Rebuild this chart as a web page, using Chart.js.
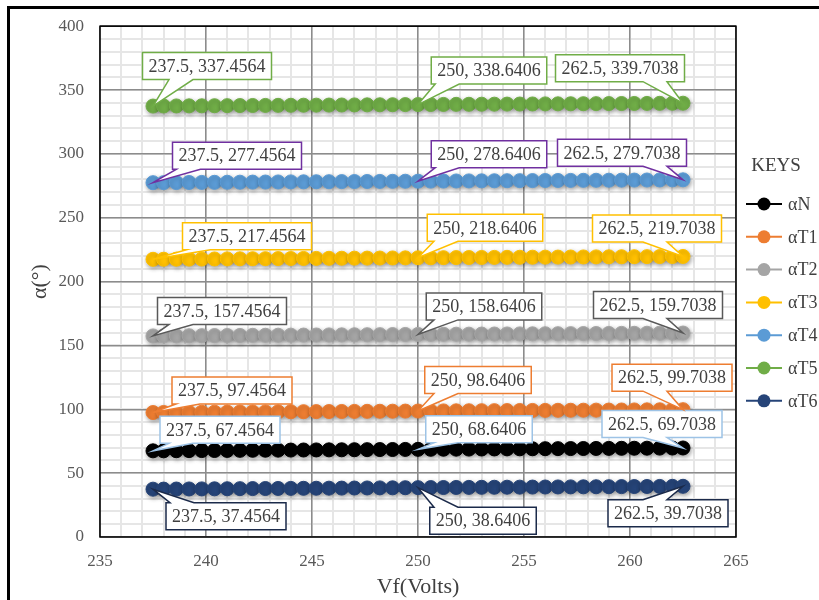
<!DOCTYPE html>
<html>
<head>
<meta charset="utf-8">
<script src="https://cdn.jsdelivr.net/npm/chart.js@4.4.1/dist/chart.umd.min.js"></script>
<style>
  body { margin: 0; background: #fff; }
  canvas { display: block; }
</style>
</head>
<body>
<canvas id="alphaChart" width="819" height="600"></canvas>
<script>
// Vf (Volts)
const xValues = [237.5, 238, 238.6, 239.2, 239.8, 240.4, 241, 241.6, 242.2, 242.8, 243.4,
  244, 244.6, 245.2, 245.8, 246.4, 247, 247.6, 248.2, 248.8, 249.4, 250, 250.6, 251.2,
  251.8, 252.4, 253, 253.6, 254.2, 254.8, 255.4, 256, 256.6, 257.2, 257.8, 258.4, 259,
  259.6, 260.2, 260.8, 261.4, 262, 262.5];

// alpha series
const alphaN = [67.4564, 67.50, 67.56, 67.62, 67.67, 67.73, 67.79, 67.85, 67.91, 67.96, 68.02,
  68.07, 68.13, 68.18, 68.24, 68.29, 68.35, 68.40, 68.46, 68.51, 68.59, 68.6406, 68.69, 68.74,
  68.80, 68.85, 68.90, 68.95, 69.00, 69.05, 69.10, 69.15, 69.20, 69.25, 69.30, 69.35, 69.40,
  69.45, 69.50, 69.55, 69.60, 69.66, 69.7038];
const alphaT1 = [97.4564, 97.50, 97.56, 97.62, 97.67, 97.73, 97.79, 97.85, 97.91, 97.96, 98.02,
  98.07, 98.13, 98.18, 98.24, 98.29, 98.35, 98.40, 98.46, 98.51, 98.59, 98.6406, 98.69, 98.74,
  98.80, 98.85, 98.90, 98.95, 99.00, 99.05, 99.10, 99.15, 99.20, 99.25, 99.30, 99.35, 99.40,
  99.45, 99.50, 99.55, 99.60, 99.66, 99.7038];
const alphaT2 = [157.4564, 157.50, 157.56, 157.62, 157.67, 157.73, 157.79, 157.85, 157.91, 157.96, 158.02,
  158.07, 158.13, 158.18, 158.24, 158.29, 158.35, 158.40, 158.46, 158.51, 158.59, 158.6406, 158.69, 158.74,
  158.80, 158.85, 158.90, 158.95, 159.00, 159.05, 159.10, 159.15, 159.20, 159.25, 159.30, 159.35, 159.40,
  159.45, 159.50, 159.55, 159.60, 159.66, 159.7038];
const alphaT3 = [217.4564, 217.50, 217.56, 217.62, 217.67, 217.73, 217.79, 217.85, 217.91, 217.96, 218.02,
  218.07, 218.13, 218.18, 218.24, 218.29, 218.35, 218.40, 218.46, 218.51, 218.59, 218.6406, 218.69, 218.74,
  218.80, 218.85, 218.90, 218.95, 219.00, 219.05, 219.10, 219.15, 219.20, 219.25, 219.30, 219.35, 219.40,
  219.45, 219.50, 219.55, 219.60, 219.66, 219.7038];
const alphaT4 = [277.4564, 277.50, 277.56, 277.62, 277.67, 277.73, 277.79, 277.85, 277.91, 277.96, 278.02,
  278.07, 278.13, 278.18, 278.24, 278.29, 278.35, 278.40, 278.46, 278.51, 278.59, 278.6406, 278.69, 278.74,
  278.80, 278.85, 278.90, 278.95, 279.00, 279.05, 279.10, 279.15, 279.20, 279.25, 279.30, 279.35, 279.40,
  279.45, 279.50, 279.55, 279.60, 279.66, 279.7038];
const alphaT5 = [337.4564, 337.50, 337.56, 337.62, 337.67, 337.73, 337.79, 337.85, 337.91, 337.96, 338.02,
  338.07, 338.13, 338.18, 338.24, 338.29, 338.35, 338.40, 338.46, 338.51, 338.59, 338.6406, 338.69, 338.74,
  338.80, 338.85, 338.90, 338.95, 339.00, 339.05, 339.10, 339.15, 339.20, 339.25, 339.30, 339.35, 339.40,
  339.45, 339.50, 339.55, 339.60, 339.66, 339.7038];
const alphaT6 = [37.4564, 37.50, 37.56, 37.62, 37.67, 37.73, 37.79, 37.85, 37.91, 37.96, 38.02,
  38.07, 38.13, 38.18, 38.24, 38.29, 38.35, 38.40, 38.46, 38.51, 38.59, 38.6406, 38.69, 38.74,
  38.80, 38.85, 38.90, 38.95, 39.00, 39.05, 39.10, 39.15, 39.20, 39.25, 39.30, 39.35, 39.40,
  39.45, 39.50, 39.55, 39.60, 39.66, 39.7038];

const seriesNames = ['αN', 'αT1', 'αT2', 'αT3', 'αT4', 'αT5', 'αT6'];
const seriesValues = [alphaN, alphaT1, alphaT2, alphaT3, alphaT4, alphaT5, alphaT6];

// tick labels
const xTickValues = [235, 240, 245, 250, 255, 260, 265];
const yTickValues = [0, 50, 100, 150, 200, 250, 300, 350, 400];

// which points get a data callout
const calloutIndex = [0, 21, 42];

// styling
const seriesColors = ['#000000', '#ed7d31', '#a5a5a5', '#ffc000', '#5b9bd5', '#70ad47', '#264478'];
const calloutColors = ['#9dc3e6', '#ed7d31', '#595959', '#ffc000', '#7030a0', '#70ad47', '#1b2a4a'];
// box centre offset from the point, px
const calloutOffsets = [
  [[67, -21], [61, -20], [-21, -24]],
  [[79, -22], [60, -31], [-11, -32]],
  [[69, -25], [66, -28], [-25, -28]],
  [[94, -23], [67, -30], [-26, -28]],
  [[84, -27], [71, -27], [-61, -27]],
  [[54, -40], [71, -34], [-63, -35]],
  [[73, 27], [65, 33], [-15, 27]]
];

const SERIF = "'Liberation Serif', 'Times New Roman', serif";

function drawCallout(ctx, text, cx, cy, px, py, color) {
  ctx.font = '18px ' + SERIF;
  const bw = ctx.measureText(text).width + 12;
  const bh = 27;
  const bx = cx - bw / 2, by = cy - bh / 2;
  const bc = Math.min(Math.max(px + (px < cx ? 28 : -28), bx + 16), bx + bw - 16);
  const b1 = bc - 12, b2 = bc + 12;

  ctx.beginPath();
  if (py > by + bh) {
    ctx.moveTo(bx, by);
    ctx.lineTo(bx + bw, by);
    ctx.lineTo(bx + bw, by + bh);
    ctx.lineTo(b2, by + bh);
    ctx.lineTo(px, py);
    ctx.lineTo(b1, by + bh);
    ctx.lineTo(bx, by + bh);
  } else {
    ctx.moveTo(bx, by);
    ctx.lineTo(b1, by);
    ctx.lineTo(px, py);
    ctx.lineTo(b2, by);
    ctx.lineTo(bx + bw, by);
    ctx.lineTo(bx + bw, by + bh);
    ctx.lineTo(bx, by + bh);
  }
  ctx.closePath();
  ctx.fillStyle = '#fff';
  ctx.fill();
  ctx.lineWidth = 1.5;
  ctx.strokeStyle = color;
  ctx.stroke();

  ctx.fillStyle = '#404040';
  ctx.textAlign = 'center';
  ctx.textBaseline = 'middle';
  ctx.fillText(text, cx, cy + 1);
}

const excelLook = {
  id: 'excelLook',
  beforeDraw(chart) {
    const { ctx, chartArea: a, scales: { x, y } } = chart;
    ctx.save();
    ctx.fillStyle = '#fff';
    ctx.fillRect(0, 0, chart.width, chart.height);
    // minor grid
    ctx.strokeStyle = '#e6e6e6';
    ctx.lineWidth = 2;
    ctx.beginPath();
    for (let v = x.min + 1; v < x.max; v += 1) {
      const px = Math.round(x.getPixelForValue(v));
      ctx.moveTo(px, a.top);
      ctx.lineTo(px, a.bottom);
    }
    for (let v = y.min + 10; v < y.max; v += 10) {
      const py = Math.round(y.getPixelForValue(v));
      ctx.moveTo(a.left, py);
      ctx.lineTo(a.right, py);
    }
    ctx.stroke();
    ctx.restore();
  },
  beforeDatasetsDraw(chart) {
    const { ctx, chartArea: a } = chart;
    ctx.save();
    ctx.strokeStyle = '#000';
    ctx.lineWidth = 1.5;
    ctx.strokeRect(a.left, a.top, a.right - a.left, a.bottom - a.top);
    ctx.restore();
    ctx.save();
    ctx.shadowColor = 'rgba(0,0,0,0.35)';
    ctx.shadowBlur = 4;
    ctx.shadowOffsetX = 1;
    ctx.shadowOffsetY = 2;
  },
  afterDatasetsDraw(chart) {
    const ctx = chart.ctx;
    ctx.restore();
    ctx.save();
    chart.data.datasets.forEach((ds, si) => {
      const meta = chart.getDatasetMeta(si);
      calloutIndex.forEach((idx, k) => {
        const pt = meta.data[idx];
        const off = calloutOffsets[si][k];
        const text = xValues[idx] + ', ' + seriesValues[si][idx];
        drawCallout(ctx, text, pt.x + off[0], pt.y + off[1], pt.x, pt.y, calloutColors[si]);
      });
    });
    ctx.restore();
  },
  afterDraw(chart) {
    const ctx = chart.ctx;
    ctx.save();
    // legend
    ctx.fillStyle = '#404040';
    ctx.textAlign = 'center';
    ctx.textBaseline = 'middle';
    ctx.font = '19px ' + SERIF;
    ctx.fillText('KEYS', 776, 166);
    ctx.textAlign = 'left';
    ctx.font = '18px ' + SERIF;
    seriesNames.forEach((name, i) => {
      const yy = 204 + i * 32.8;
      ctx.strokeStyle = seriesColors[i];
      ctx.lineWidth = 2;
      ctx.beginPath();
      ctx.moveTo(746, yy);
      ctx.lineTo(782, yy);
      ctx.stroke();
      ctx.fillStyle = seriesColors[i];
      ctx.beginPath();
      ctx.arc(764, yy, 6.5, 0, Math.PI * 2);
      ctx.fill();
      ctx.fillStyle = '#404040';
      ctx.fillText(name, 788, yy + 1);
    });
    // outer frame
    ctx.strokeStyle = '#000';
    ctx.lineWidth = 3;
    ctx.beginPath();
    ctx.moveTo(8.5, 600);
    ctx.lineTo(8.5, 7.5);
    ctx.lineTo(819, 7.5);
    ctx.stroke();
    ctx.restore();
  }
};

const chartCtx = document.getElementById('alphaChart');

new Chart(chartCtx, {
  type: 'line',
  data: {
    datasets: seriesNames.map((name, i) => ({
      label: name,
      data: xValues.map((x, j) => ({ x: x, y: seriesValues[i][j] })),
      borderColor: seriesColors[i],
      backgroundColor: seriesColors[i],
      pointBackgroundColor: seriesColors[i],
      pointBorderColor: seriesColors[i],
      borderWidth: 2,
      pointRadius: 7,
      pointBorderWidth: 1
    }))
  },
  options: {
    responsive: false,
    animation: false,
    devicePixelRatio: 1,
    layout: { padding: { top: 24, right: 83, bottom: 0, left: 0 } },
    plugins: {
      legend: { display: false },
      tooltip: { enabled: false }
    },
    scales: {
      x: {
        type: 'linear',
        min: 235,
        max: 265,
        afterBuildTicks: (s) => { s.ticks = xTickValues.map(v => ({ value: v })); },
        afterFit: (s) => { s.height = 63; },
        grid: { color: '#8c8c8c', lineWidth: 1.5, drawTicks: false },
        border: { display: false },
        ticks: {
          padding: 14,
          color: '#595959',
          font: { family: SERIF, size: 17 }
        },
        title: {
          display: true,
          text: 'Vf(Volts)',
          color: '#404040',
          padding: { top: 0, bottom: 0 },
          font: { family: SERIF, size: 22 }
        }
      },
      y: {
        min: 0,
        max: 400,
        afterBuildTicks: (s) => { s.ticks = yTickValues.map(v => ({ value: v })); },
        afterFit: (s) => { s.width = 100; },
        grid: { color: '#8c8c8c', lineWidth: 1.5, drawTicks: false },
        border: { display: false },
        ticks: {
          padding: 16,
          color: '#595959',
          font: { family: SERIF, size: 17 }
        },
        title: {
          display: true,
          text: 'α(°)',
          color: '#404040',
          padding: { top: 27, bottom: 0 },
          font: { family: SERIF, size: 22 }
        }
      }
    }
  },
  plugins: [excelLook]
});
</script>
</body>
</html>
